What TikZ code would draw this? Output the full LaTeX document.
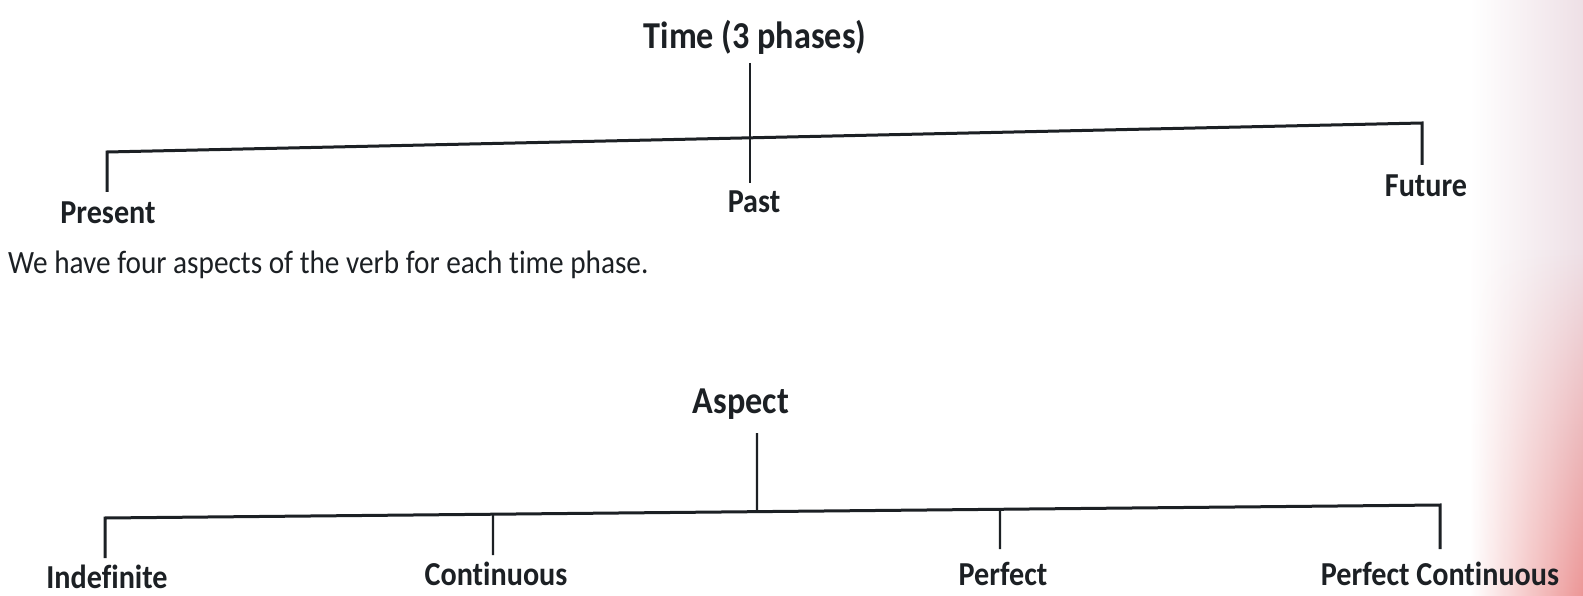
\documentclass[tikz,border=0pt]{standalone}
\usepackage{fontspec}
\setmainfont{Carlito}[FakeStretch=0.9, Ligatures=NoCommon]
\usetikzlibrary{calc,fadings}
\definecolor{ink}{RGB}{28,32,36}
\definecolor{scanpink}{RGB}{236,150,150}
\definecolor{scangrey}{RGB}{238,224,230}
\begin{document}
\begin{tikzpicture}[x=1pt,y=1pt,
  lab/.style={anchor=base, inner sep=0pt, text=ink, font=\fontsize{33.5}{40}\selectfont\bfseries},
  head/.style={anchor=base, inner sep=0pt, text=ink, font=\fontsize{38}{45}\selectfont\bfseries},
  txt/.style={anchor=base west, inner sep=0pt, text=ink, font=\fontsize{32.5}{39}\selectfont},
  bar/.style={draw=ink, line width=3pt, line join=miter},
  stem/.style={draw=ink, line width=2.3pt}]
\useasboundingbox (0,-596) rectangle (1583,0);
\fill[white] (0,-596) rectangle (1583,0);
\shade[left color=white, right color=scangrey] (1470,-596) rectangle (1583,0);
\shade[left color=white, right color=scanpink, path fading=north] (1470,-596) rectangle (1583,-250);

% --- Time diagram ---
\node[head] (time) at (755,-49) {Time (3 phases)};
\node[lab] (present) at (108,-224) {Present};
\node[lab] (past) at (754,-213) {Past};
\node[lab] (future) at (1426,-197) {Future};

\coordinate (tl) at (107,-152);
\coordinate (tr) at (1422,-123);
\coordinate (bpres) at (107,-192);
\coordinate (bfut) at (1422,-165);
\coordinate (tpast) at (750,-63);
\coordinate (bpast) at (750,-183);
\draw[bar] (bpres) -- (tl) -- (tr) -- (bfut);
\draw[stem] (tpast) -- (bpast);

% --- sentence ---
\node[txt] (sent) at (8,-274) {We have four aspects of the verb for each time phase.};

% --- Aspect diagram ---
\node[head] (aspect) at (741,-413) {Aspect};
\node[lab] (indef) at (107,-588) {Indefinite};
\node[lab] (cont) at (496,-585) {Continuous};
\node[lab] (perf) at (1003,-585) {Perfect};
\node[lab] (pcont) at (1440,-585) {Perfect Continuous};

\coordinate (bl) at (105,-518);
\coordinate (br) at (1440,-505);
\coordinate (bindef) at (105,-558);
\coordinate (bpc) at (1440,-549);
\coordinate (taspect) at (757,-433);
\coordinate (jasp) at ($(bl)!0.4884!(br)$);
\coordinate (jcont) at ($(bl)!0.2906!(br)$);
\coordinate (bcont) at (493,-555);
\coordinate (jperf) at ($(bl)!0.6704!(br)$);
\coordinate (bperf) at (1000,-549);
\draw[bar] (bindef) -- (bl) -- (br) -- (bpc);
\draw[stem] (taspect) -- (jasp);
\draw[stem] (jcont) -- (bcont);
\draw[stem] (jperf) -- (bperf);
\end{tikzpicture}
\end{document}
